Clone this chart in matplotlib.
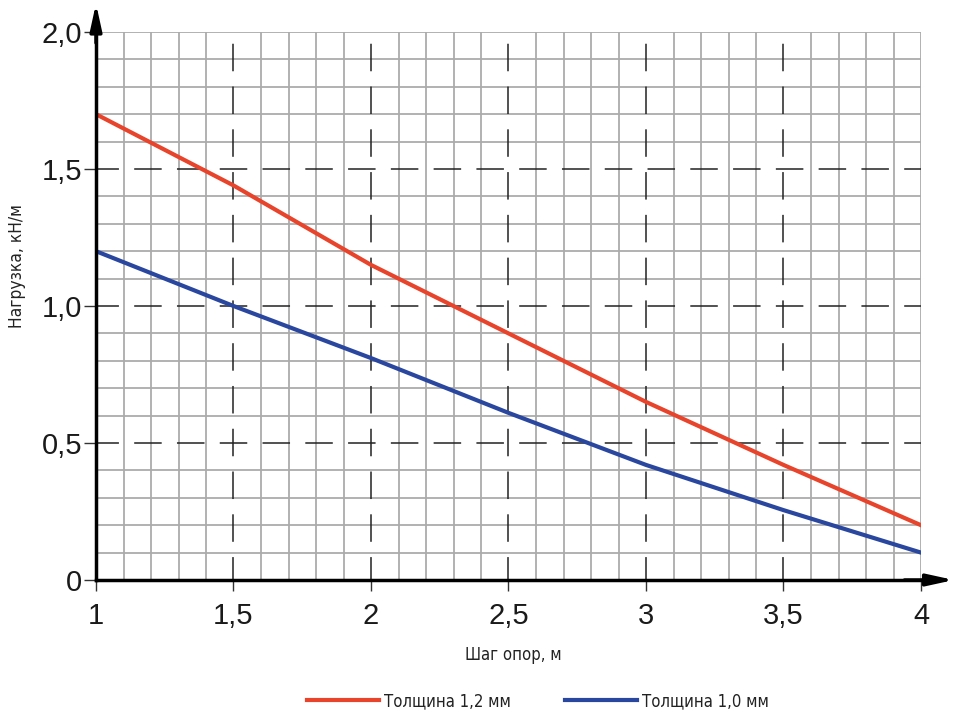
import matplotlib
matplotlib.use("Agg")
import matplotlib.pyplot as plt
import numpy as np

x = [1.0, 1.5, 2.0, 2.5, 3.0, 3.5, 4.0]
thick_12 = [1.70, 1.44, 1.15, 0.90, 0.65, 0.42, 0.20]
thick_10 = [1.20, 1.00, 0.81, 0.61, 0.42, 0.255, 0.10]
series_labels = ["Толщина 1,2 мм", "Толщина 1,0 мм"]
xticks = [1, 1.5, 2, 2.5, 3, 3.5, 4]
xticklabels = ["1", "1,5", "2", "2,5", "3", "3,5", "4"]
yticks = [0, 0.5, 1.0, 1.5, 2.0]
yticklabels = ["0", "0,5", "1,0", "1,5", "2,0"]
xlabel = "Шаг опор, м"
ylabel = "Нагрузка, кН/м"

plt.rcParams['font.family'] = ["Liberation Sans", "DejaVu Sans"]
narrow = dict(family=["DejaVu Sans"], stretch="condensed")

fig = plt.figure(figsize=(9.54, 7.2), dpi=100)
ax = fig.add_axes([96/954, 1-580/720, 825/954, 548/720])
ax.set_xlim(1, 4)
ax.set_ylim(0, 2)

# minor grid
gray = "#ababab"
for v in np.arange(1.1, 4.0001, 0.1):
    if abs((v*2) - round(v*2)) < 1e-6 and v < 3.99:
        continue
    ax.axvline(v, color=gray, lw=1.3, zorder=1)
for v in np.arange(0.1, 2.0001, 0.1):
    if abs((v*2) - round(v*2)) < 1e-6 and v < 1.99:
        continue
    ax.axhline(v, color=gray, lw=1.3, zorder=1)
# major dashed grid
for v in [1.5, 2, 2.5, 3, 3.5]:
    ax.axvline(v, color="#222222", lw=1.1, ls=(3, (18, 10)), zorder=2)
for v in [0.5, 1.0, 1.5]:
    ax.axhline(v, color="#222222", lw=1.1, ls=(3, (18, 10)), zorder=2)

ax.plot(x, thick_12, color="#e8442c", lw=3.0, label=series_labels[0], zorder=4)
ax.plot(x, thick_10, color="#2a47a0", lw=3.0, label=series_labels[1], zorder=4)

for s in ["top", "right"]:
    ax.spines[s].set_visible(False)
ax.spines["left"].set_linewidth(2.5)
ax.spines["bottom"].set_linewidth(2.5)
ax.spines["left"].set_zorder(5)
ax.spines["bottom"].set_zorder(5)

ax.set_xticks(xticks)
ax.set_xticklabels(xticklabels, fontsize=21, color="#1a1a1a")
ax.set_yticks(yticks)
ax.set_yticklabels(yticklabels, fontsize=21, color="#1a1a1a")
ax.tick_params(axis='x', direction='out', length=8, width=1, color="#333333", pad=8)
ax.tick_params(axis='y', direction='out', length=9, width=1, color="#333333", pad=1)

# arrows
ax.annotate("", xy=(0, 1.052), xytext=(0, 0.98), xycoords='axes fraction',
            arrowprops=dict(arrowstyle="-|>,head_length=1.6,head_width=0.35", color="black", lw=2.5,
                            shrinkA=0, shrinkB=0), annotation_clip=False, zorder=6)
ax.annotate("", xy=(1.04, 0), xytext=(0.98, 0), xycoords='axes fraction',
            arrowprops=dict(arrowstyle="-|>,head_length=1.6,head_width=0.35", color="black", lw=2.5,
                            shrinkA=0, shrinkB=0), annotation_clip=False, zorder=6)

fig.text(513/954, 1-655/720, xlabel, ha="center", va="center", fontsize=12, color="#222222", **narrow)
fig.text(17/954, 1-266/720, ylabel, ha="center", va="center", rotation=90, fontsize=12.5, color="#222222", **narrow)

leg = fig.legend(loc="center", bbox_to_anchor=(538/954, 1-701/720), ncol=2, frameon=False,
                 prop=dict(size=12, **narrow), handlelength=4.3, columnspacing=3.3, handletextpad=0.3)
for t in leg.get_texts():
    t.set_color("#222222")

fig.savefig("out.png", dpi=100)
